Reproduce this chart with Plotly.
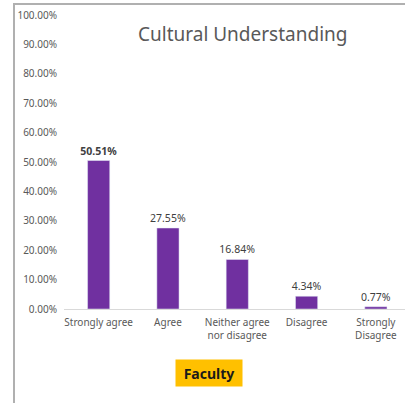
import plotly.graph_objects as go

categories = ["Strongly agree", "Agree", "Neither agree<br>nor disagree", "Disagree", "Strongly<br>Disagree"]
values = [0.5051, 0.2755, 0.1684, 0.0434, 0.0077]
labels = ["<b>50.51%</b>", "27.55%", "16.84%", "4.34%", "0.77%"]
ytick_vals = [i / 10 for i in range(11)]

W, H = 405, 403
ml, mt, mb = 64, 15, 94
pw, ph = W - ml, H - mt - mb


def px(x):
    return (x - ml) / pw


def py(y):
    return (H - mb - y) / ph


fig = go.Figure(go.Bar(
    x=list(range(len(categories))),
    y=values,
    text=labels,
    textposition="outside",
    constraintext="none",
    textfont=dict(size=10.5, color="#404040"),
    marker=dict(color="#7030A0"),
    width=0.32,
    cliponaxis=False,
))

fig.update_layout(
    width=W, height=H,
    margin=dict(l=ml, r=0, t=mt, b=mb),
    paper_bgcolor="white", plot_bgcolor="white",
    font=dict(family="Noto Sans", color="#595959"),
    showlegend=False,
    xaxis=dict(
        range=[-0.5, 4.42],
        tickvals=list(range(len(categories))),
        ticktext=categories,
        tickfont=dict(size=10, color="#595959"),
        showgrid=False, zeroline=False,
        showline=True, linecolor="#D9D9D9", linewidth=1,
        ticks="", ticklabelstandoff=4,
    ),
    yaxis=dict(
        range=[0, 1],
        tickvals=ytick_vals,
        tickformat=".2%",
        tickfont=dict(size=10, color="#595959"),
        showgrid=False, zeroline=False, showline=False,
        ticks="", ticklabelstandoff=6,
    ),
    annotations=[
        dict(text="Cultural Understanding", x=px(242), y=py(34), xref="paper", yref="paper",
             xanchor="center", yanchor="middle",
             showarrow=False, font=dict(size=19, color="#595959")),
        dict(text="<b>Faculty</b>", x=px(209), y=py(373), xref="paper", yref="paper",
             xanchor="center", yanchor="middle", showarrow=False,
             font=dict(size=14, color="#1a1a1a"), bgcolor="#FFC000",
             width=64, height=24),
    ],
)

fig.add_shape(type="line", xref="paper", yref="paper", x0=px(13), x1=px(405), y0=py(4), y1=py(4),
              line=dict(color="#B0B0B0", width=2))
fig.add_shape(type="line", xref="paper", yref="paper", x0=px(14), x1=px(14), y0=py(4), y1=py(403),
              line=dict(color="#B0B0B0", width=2))

fig.write_html("out.html", config={"displayModeBar": False},
               post_script="document.body.style.margin='0';document.body.style.overflow='hidden';")
